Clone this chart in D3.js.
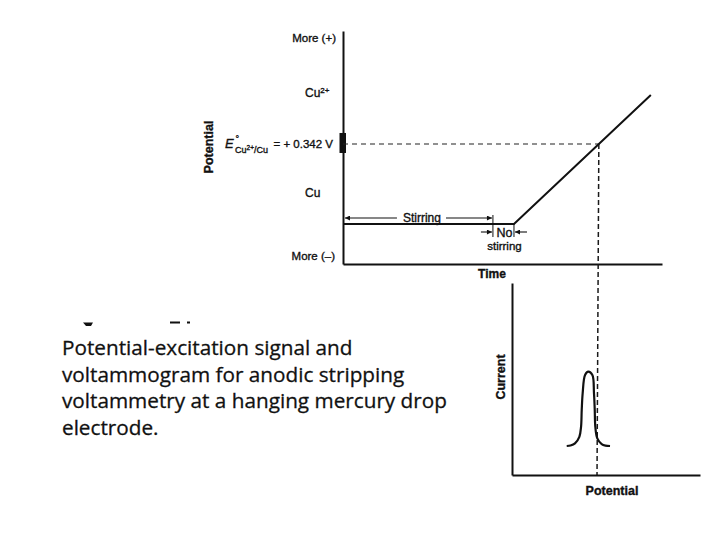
<!DOCTYPE html>
<html><head><meta charset="utf-8">
<script src="https://cdn.jsdelivr.net/npm/d3@7"></script>
<style>
html,body{margin:0;padding:0;background:#fff;}
svg{display:block;}
.lab{font-family:"Liberation Sans",Arial,sans-serif;fill:#111;stroke:#111;stroke-width:0.35;}
</style></head>
<body>
<svg id="c" width="720" height="540"></svg>
<script>
// ---------- data ----------
// Upper panel: potential-excitation signal (time vs. potential, V)
const timeDomain = [0, 10];
const potentialDomain = [-0.92, 1.53];
const E0 = 0.342;                       // E° Cu2+/Cu, V
const signalTime = [0, 5.36, 9.65];
const signalPotential = [-0.5, -0.5, 0.858];
const phaseLabels = ["Stirring", "No stirring"];
const phaseStart = [0, 4.7];
const phaseEnd = [4.7, 5.36];
const potentialLabels = ["More (+)", "Cu2+", "Cu", "More (–)"];

// Lower panel: stripping voltammogram (potential vs. current)
const sweepDomain = [-0.553, 1.426];
const currentDomain = [0, 1];
const peakPotential = [0.023, 0.063, 0.110, 0.156, 0.174, 0.181, 0.191, 0.216, 0.250,
                       0.293, 0.310, 0.318, 0.324, 0.345, 0.391, 0.431, 0.479];
const peakCurrent   = [0.151, 0.154, 0.165, 0.199, 0.252, 0.339, 0.426, 0.521, 0.538,
                       0.521, 0.426, 0.339, 0.252, 0.191, 0.161, 0.153, 0.151];

const captionLines = ["Potential-excitation signal and",
                      "voltammogram for anodic stripping",
                      "voltammetry at a hanging mercury drop",
                      "electrode."];

// ---------- drawing ----------
const svg = d3.select("#c");
const defs = svg.append("defs");
defs.append("marker").attr("id","ah").attr("viewBox","0 0 10 10")
  .attr("refX",10).attr("refY",5).attr("markerWidth",7).attr("markerHeight",5)
  .attr("markerUnits","userSpaceOnUse").attr("orient","auto")
  .append("path").attr("d","M0,0L10,5L0,10z").attr("fill","#111");

const xT = d3.scaleLinear(timeDomain, [343, 662]);
const yP = d3.scaleLinear(potentialDomain, [264, 31]);
const xE = d3.scaleLinear(sweepDomain, [512, 700]);
const yI = d3.scaleLinear(currentDomain, [475, 283]);

// upper axes
svg.append("g").attr("transform",`translate(${xT(0)},0)`)
  .call(d3.axisLeft(yP).tickValues([]).tickSizeOuter(0))
  .select(".domain").attr("stroke","#111").attr("stroke-width",2);
svg.append("g").attr("transform",`translate(0,${yP(potentialDomain[0])})`)
  .call(d3.axisBottom(xT).tickValues([]).tickSizeOuter(0))
  .select(".domain").attr("stroke","#111").attr("stroke-width",2);

// E° thick mark on axis
svg.append("rect").attr("x",xT(0)-3.5).attr("y",yP(E0)-11).attr("width",6.5).attr("height",20).attr("fill","#111");

// E° dashed horizontal and vertical
const rampI = 1;
const tE = signalTime[rampI] + (E0 - signalPotential[rampI]) /
          (signalPotential[rampI+1]-signalPotential[rampI]) * (signalTime[rampI+1]-signalTime[rampI]);
svg.append("line").attr("x1",xT(0)).attr("x2",xT(tE)).attr("y1",yP(E0)).attr("y2",yP(E0))
  .attr("stroke","#222").attr("stroke-width",1.2).attr("stroke-dasharray","5,4");
svg.append("line").attr("x1",xT(tE)).attr("y1",yP(E0)).attr("x2",xE(E0)).attr("y2",yI(0))
  .attr("stroke","#1a1a1a").attr("stroke-width",1.5).attr("stroke-dasharray","5,3");

// signal line
const sig = signalTime.map((t,i)=>[t, signalPotential[i]]);
svg.append("path").datum(sig)
  .attr("d", d3.line().x(d=>xT(d[0])).y(d=>yP(d[1])))
  .attr("fill","none").attr("stroke","#111").attr("stroke-width",2);

// stirring annotation
const yArrow = 218;
const stirText = svg.append("text").attr("class","lab").attr("font-size",12)
  .attr("x",(xT(phaseStart[0])+xT(phaseEnd[0]))/2+4).attr("y",222).attr("text-anchor","middle")
  .text(phaseLabels[0]);
const sb = stirText.node().getBBox();
svg.append("line").attr("x1",sb.x-6).attr("x2",xT(phaseStart[0])+2).attr("y1",yArrow).attr("y2",yArrow)
  .attr("stroke","#111").attr("stroke-width",1.1).attr("marker-end","url(#ah)");
svg.append("line").attr("x1",sb.x+sb.width+5).attr("x2",xT(phaseEnd[0])-1).attr("y1",yArrow).attr("y2",yArrow)
  .attr("stroke","#111").attr("stroke-width",1.1).attr("marker-end","url(#ah)");

// no stirring bracket
const x1 = xT(phaseStart[1]), x2 = xT(phaseEnd[1]);
svg.append("line").attr("x1",x1).attr("x2",x1).attr("y1",215).attr("y2",237).attr("stroke","#111").attr("stroke-width",1);
svg.append("line").attr("x1",x2).attr("x2",x2).attr("y1",yP(signalPotential[1])).attr("y2",237).attr("stroke","#111").attr("stroke-width",1);
svg.append("line").attr("x1",x1-12).attr("x2",x1-1).attr("y1",232).attr("y2",232)
  .attr("stroke","#111").attr("stroke-width",1.1).attr("marker-end","url(#ah)");
svg.append("line").attr("x1",x2+13).attr("x2",x2+1).attr("y1",232).attr("y2",232)
  .attr("stroke","#111").attr("stroke-width",1.1).attr("marker-end","url(#ah)");
const [noW, stirW] = phaseLabels[1].split(" ");
svg.append("text").attr("class","lab").attr("font-size",12.5).attr("text-anchor","middle")
  .attr("x",(x1+x2)/2+1).attr("y",236.5).text(noW);
svg.append("text").attr("class","lab").attr("font-size",11.5).attr("text-anchor","middle")
  .attr("x",(x1+x2)/2+1).attr("y",249.5).text(stirW);

// potential labels
svg.append("text").attr("class","lab").attr("font-size",11.5).attr("text-anchor","end")
  .attr("x",336).attr("y",42).text(potentialLabels[0]);
const cu2 = svg.append("text").attr("class","lab").attr("font-size",12).attr("x",305).attr("y",97);
cu2.append("tspan").text("Cu");
cu2.append("tspan").attr("font-size",8).attr("dy",-4).text("2+");
svg.append("text").attr("class","lab").attr("font-size",12).attr("x",305).attr("y",197).text(potentialLabels[2]);
svg.append("text").attr("class","lab").attr("font-size",11.5).attr("text-anchor","end")
  .attr("x",335).attr("y",260).text(potentialLabels[3]);

// E° label
svg.append("text").attr("class","lab").attr("font-size",13).attr("font-style","italic")
  .attr("x",225).attr("y",148).text("E");
svg.append("text").attr("class","lab").attr("font-size",9).attr("x",235.5).attr("y",142).text("°");
const sub = svg.append("text").attr("class","lab").attr("font-size",9).attr("x",235).attr("y",152.5);
sub.append("tspan").text("Cu");
sub.append("tspan").attr("font-size",6.5).attr("dy",-3).text("2+");
sub.append("tspan").attr("dy",3).text("/Cu");
svg.append("text").attr("class","lab").attr("font-size",11.5).attr("text-anchor","end")
  .attr("x",333).attr("y",148).text("= + " + E0.toFixed(3) + " V");

// axis titles (upper)
svg.append("text").attr("class","lab").attr("font-size",12.5).attr("font-weight","bold")
  .attr("text-anchor","middle").attr("transform","translate(213,147) rotate(-90)").text("Potential");
svg.append("text").attr("class","lab").attr("font-size",12).attr("font-weight","bold")
  .attr("text-anchor","middle").attr("x",492).attr("y",278).text("Time");

// lower axes
svg.append("g").attr("transform",`translate(${xE(sweepDomain[0])},0)`)
  .call(d3.axisLeft(yI).tickValues([]).tickSizeOuter(0))
  .select(".domain").attr("stroke","#111").attr("stroke-width",2);
svg.append("g").attr("transform",`translate(0,${yI(0)})`)
  .call(d3.axisBottom(xE).tickValues([]).tickSizeOuter(0))
  .select(".domain").attr("stroke","#111").attr("stroke-width",2);

// peak
const pk = peakPotential.map((v,i)=>[v, peakCurrent[i]]);
svg.append("path").datum(pk)
  .attr("d", d3.line().x(d=>xE(d[0])).y(d=>yI(d[1])).curve(d3.curveCatmullRom.alpha(0.5)))
  .attr("fill","none").attr("stroke","#111").attr("stroke-width",2.2);

svg.append("text").attr("class","lab").attr("font-size",12.5).attr("font-weight","bold")
  .attr("text-anchor","middle").attr("transform","translate(505,377) rotate(-90)").text("Current");
svg.append("text").attr("class","lab").attr("font-size",12.5).attr("font-weight","bold")
  .attr("text-anchor","middle").attr("x",612).attr("y",495).text("Potential");

// remnant marks of a cropped heading above the caption
svg.append("path").attr("d","M83,322.5H93L91,326H86Z M170,321.5H180V323.5H170Z M187,321.5H190V323.5H187Z")
  .attr("fill","#111");

// caption
const cap = svg.append("g");
const capTexts = cap.selectAll("text").data(captionLines).join("text")
  .attr("x",62).attr("y",(d,i)=>355 + i*26.7)
  .attr("font-family","'Open Sans','Noto Sans',sans-serif").attr("font-size",20)
  .attr("fill","#111").attr("stroke","#111").attr("stroke-width",0.3)
  .text(d=>d);
const w3 = capTexts.nodes()[2].getComputedTextLength();
const fs = 20 * 385 / w3;
capTexts.attr("font-size", fs);
</script>
</body></html>
